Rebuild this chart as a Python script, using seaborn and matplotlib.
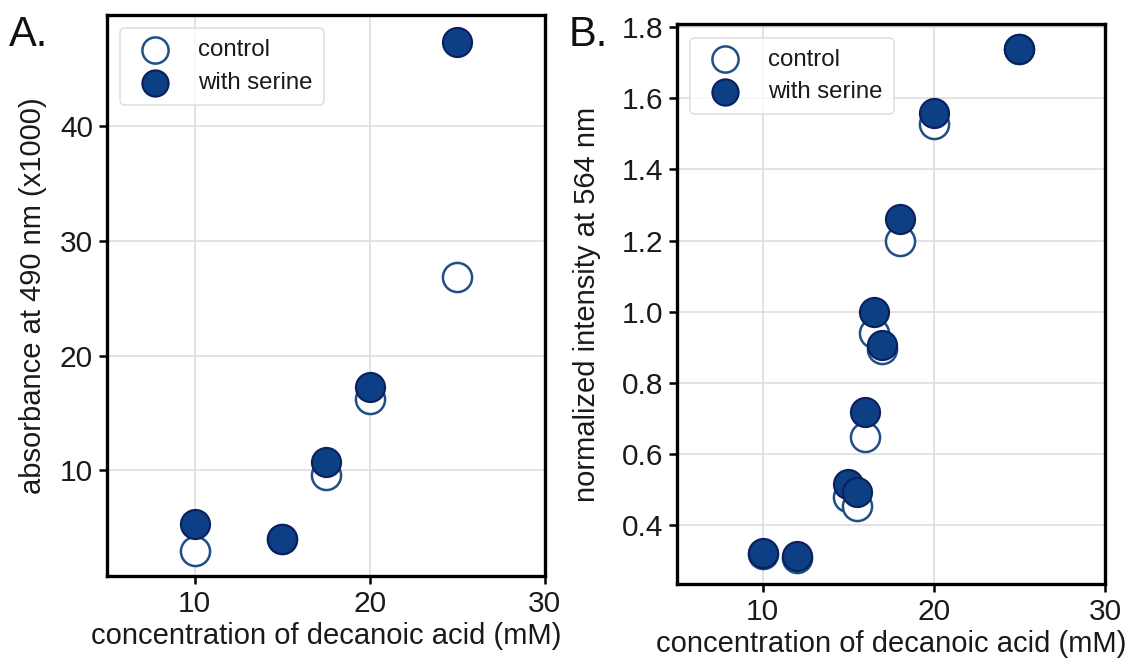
import numpy as np
import pandas as pd
import matplotlib
matplotlib.use("Agg")
import matplotlib.pyplot as plt
import seaborn as sns

# ---- data ----
a_conc = [10, 15, 17.5, 20, 25]
a_control = [3.0, 4.0, 9.6, 16.2, 26.9]
a_serine = [5.35, 4.05, 10.7, 17.3, 47.4]

b_conc = [10, 12, 15, 15.5, 16, 16.5, 17, 18, 20, 25]
b_control = [0.32, 0.31, 0.48, 0.455, 0.648, 0.94, 0.895, 1.20, 1.527, 1.737]
b_serine = [0.322, 0.313, 0.516, 0.494, 0.72, 1.0, 0.907, 1.26, 1.558, 1.737]

series_names = ["control", "with serine"]
xlabel = "concentration of decanoic acid (mM)"
a_ylabel = "absorbance at 490 nm (x1000)"
b_ylabel = "normalized intensity at 564 nm"

sns.set_theme(style="whitegrid")
plt.rcParams["font.family"] = ["Liberation Sans", "DejaVu Sans"]

FILL = "#0d3f84"
EDGE = "#0a1f5e"
HOLLOW_EDGE = "#1f4f85"

fig = plt.figure(figsize=(11.31, 6.62), dpi=100)
axA = fig.add_axes([0.0946, 0.130, 0.387, 0.847])
axB = fig.add_axes([0.5986, 0.118, 0.3784, 0.845])


def build(conc, ctrl, ser):
    df = pd.DataFrame({
        "conc": list(conc) + list(conc),
        "val": list(ctrl) + list(ser),
        "series": [series_names[0]] * len(conc) + [series_names[1]] * len(conc),
    })
    return df


def draw(ax, df, ylabel, yticks, ylim, ypad):
    c = df[df.series == series_names[0]]
    s = df[df.series == series_names[1]]
    sns.scatterplot(data=c, x="conc", y="val", ax=ax, s=440, facecolor="white",
                    edgecolor=HOLLOW_EDGE, linewidth=1.8, label=series_names[0], zorder=3)
    sns.scatterplot(data=s, x="conc", y="val", ax=ax, s=440, color=FILL,
                    edgecolor=EDGE, linewidth=1.5, label=series_names[1], zorder=4)
    ax.set_xlim(5, 30)
    ax.set_xticks([10, 20, 30])
    ax.set_ylim(*ylim)
    ax.set_yticks(yticks)
    ax.set_xlabel(xlabel, fontsize=21, color="#1a1a1a", labelpad=3)
    ax.set_ylabel(ylabel, fontsize=21, color="#1a1a1a", labelpad=ypad)
    ax.tick_params(axis="both", labelsize=21.5, colors="black", labelcolor="#1a1a1a",
                   length=6, width=1.8, direction="out", left=True, bottom=True, pad=4)
    ax.grid(True, color="#dedede", linewidth=1.2)
    for sp in ax.spines.values():
        sp.set_color("black")
        sp.set_linewidth(2.4)
    leg = ax.legend(loc="upper left", fontsize=17.3, frameon=True, markerscale=0.9,
                    handletextpad=0.8, borderpad=0.45, labelspacing=0.45,
                    borderaxespad=0.55)
    leg.get_frame().set_edgecolor("#d8d8d8")
    leg.get_frame().set_linewidth(1.2)
    for t in leg.get_texts():
        t.set_color("#1a1a1a")


draw(axA, build(a_conc, a_control, a_serine), a_ylabel, [10, 20, 30, 40], (0.8, 49.7), 9)
draw(axB, build(b_conc, b_control, b_serine), b_ylabel,
     [0.4, 0.6, 0.8, 1.0, 1.2, 1.4, 1.6, 1.8], (0.236, 1.807), 15)
axB.yaxis.set_major_formatter(matplotlib.ticker.FormatStrFormatter("%.1f"))

fig.text(0.008, 0.978, "A.", fontsize=30, va="top", ha="left", color="#111111")
fig.text(0.503, 0.978, "B.", fontsize=30, va="top", ha="left", color="#111111")

fig.savefig("out.png", dpi=100)
